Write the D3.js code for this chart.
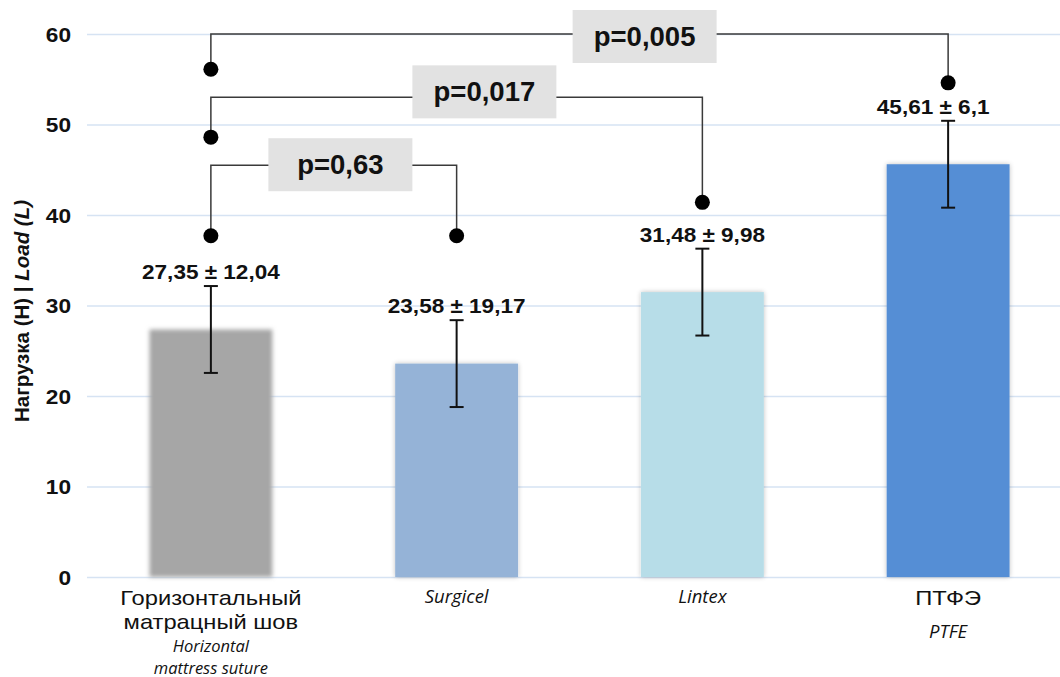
<!DOCTYPE html>
<html><head><meta charset="utf-8">
<script src="https://cdn.jsdelivr.net/npm/d3@7"></script>
<style>body{margin:0;background:#fff;}svg{display:block;}</style>
</head><body>
<svg id="c" width="1060" height="677"></svg>
<script>
const categoriesRu = [["Горизонтальный","матрацный шов"], [], [], ["ПТФЭ"]];
const categoriesEn = [["Horizontal","mattress suture"], ["Surgicel"], ["Lintex"], ["PTFE"]];
const means = [27.35, 23.58, 31.48, 45.61];
const errors = [4.8, 4.8, 4.8, 4.8];
const valueLabels = ["27,35 ± 12,04", "23,58 ± 19,17", "31,48 ± 9,98", "45,61 ± 6,1"];
const barColors = ["#a6a6a6", "#95b3d7", "#b7dde8", "#558ed5"];
const yTicks = [0, 10, 20, 30, 40, 50, 60];
// comparisons: pair of bar indexes, p label, bracket level, dot levels (data units), box position (category index units)
const compFrom = [0, 0, 0];
const compTo = [1, 2, 3];
const compP = ["p=0,63", "p=0,017", "p=0,005"];
const compLevel = [45.5, 53.0, 60.0];
const compDotFrom = [37.7, 48.6, 56.1];
const compDotTo = [37.7, 41.4, 54.6];
const compBoxAt = [0.527, 1.113, 1.765];

const FONT = "Liberation Sans, Arial, sans-serif";
const svg = d3.select("#c");
const y = d3.scaleLinear().domain([0, 60]).range([577, 34]);
const x = d3.scaleBand().domain(d3.range(4)).range([88, 1071]).paddingInner(0.5).paddingOuter(0.25);
const cx = i => x(i) + x.bandwidth() / 2;
const xi = d3.scaleLinear().domain([0, 3]).range([cx(0), cx(3)]);

function stext(g, tx, ty, sx, txt) {
  return g.append("text").attr("transform", `translate(${tx},${ty}) scale(${sx},1)`).text(txt);
}

const defs = svg.append("defs");
const f = defs.append("filter").attr("id", "sh").attr("x", "-10%").attr("y", "-10%").attr("width", "120%").attr("height", "120%");
f.append("feGaussianBlur").attr("in", "SourceAlpha").attr("stdDeviation", 2.5).attr("result", "b");
f.append("feComponentTransfer").attr("in", "b").attr("result", "o2").append("feFuncA").attr("type", "linear").attr("slope", 0.25);
const m = f.append("feMerge"); m.append("feMergeNode").attr("in", "o2"); m.append("feMergeNode").attr("in", "SourceGraphic");
const fb = defs.append("filter").attr("id", "blur").attr("x", "-10%").attr("y", "-10%").attr("width", "120%").attr("height", "120%");
fb.append("feGaussianBlur").attr("stdDeviation", 2);

// gridlines + tick labels
const yAxis = d3.axisLeft(y).tickValues(yTicks).tickSize(-(1060 - 87)).tickFormat("");
const ga = svg.append("g").attr("transform", "translate(87,0)").call(yAxis);
ga.select(".domain").remove();
ga.selectAll(".tick line").attr("stroke", "#d6e3f3").attr("stroke-width", 1.6);
const tl = svg.append("g").attr("font-family", FONT).attr("font-weight", "bold").attr("font-size", 21)
  .attr("fill", "#111").attr("text-anchor", "end");
yTicks.forEach(t => stext(tl, 71, y(t) + 7.5, 1.08, String(t)));

// y title
const yt = svg.append("text").attr("transform", "translate(29,311) rotate(-90)").attr("text-anchor", "middle")
  .attr("font-family", FONT).attr("font-weight", "bold").attr("font-size", 20.5).attr("fill", "#111");
yt.append("tspan").text("Нагрузка (Н) | ");
yt.append("tspan").attr("font-style", "italic").text("Load (L)");

// bars
svg.append("g").selectAll("rect").data(means).join("rect")
  .attr("x", (d, i) => x(i)).attr("width", x.bandwidth())
  .attr("y", d => y(d)).attr("height", d => y(0) - y(d))
  .attr("fill", (d, i) => barColors[i])
  .attr("filter", (d, i) => i === 0 ? "url(#blur)" : "url(#sh)");

// error bars
const eb = svg.append("g").attr("stroke", "#111").attr("stroke-width", 2);
means.forEach((d, i) => {
  const c = cx(i);
  eb.append("line").attr("x1", c).attr("x2", c).attr("y1", y(d + errors[i])).attr("y2", y(d - errors[i]));
  eb.append("line").attr("x1", c - 7).attr("x2", c + 7).attr("y1", y(d + errors[i])).attr("y2", y(d + errors[i]));
  eb.append("line").attr("x1", c - 7).attr("x2", c + 7).attr("y1", y(d - errors[i])).attr("y2", y(d - errors[i]));
});

// value labels
const vl = svg.append("g").attr("text-anchor", "middle").attr("font-family", FONT).attr("font-weight", "bold")
  .attr("font-size", 20.5).attr("fill", "#111");
valueLabels.forEach((t, i) => {
  stext(vl, cx(i) - (i === 3 ? 15 : 0), y(means[i] + errors[i]) - 7, 1.1, t);
});

// comparison brackets
const cg = svg.append("g");
compP.forEach((p, k) => {
  const x1 = cx(compFrom[k]), x2 = cx(compTo[k]), ly = y(compLevel[k]);
  cg.append("path").attr("fill", "none").attr("stroke", "#3a3a3a").attr("stroke-width", 1.5)
    .attr("d", `M${x1},${y(compDotFrom[k])}V${ly}H${x2}V${y(compDotTo[k])}`);
  cg.append("circle").attr("cx", x1).attr("cy", y(compDotFrom[k])).attr("r", 7.5).attr("fill", "#000");
  cg.append("circle").attr("cx", x2).attr("cy", y(compDotTo[k])).attr("r", 7.5).attr("fill", "#000");
  const bx = xi(compBoxAt[k]);
  const by = ly + (k === 1 ? -5 : (k === 2 ? 3 : 0));
  cg.append("rect").attr("x", bx - 72).attr("y", by - 27).attr("width", 144).attr("height", 53).attr("fill", "#e2e2e2");
  cg.append("text").attr("x", bx).attr("y", by + 9).attr("text-anchor", "middle")
    .attr("font-family", FONT).attr("font-weight", "bold").attr("font-size", 27.5)
    .attr("fill", "#111").text(p);
});

// x labels
const xl = svg.append("g").attr("text-anchor", "middle").attr("fill", "#111");
for (let i = 0; i < 4; i++) {
  const c = cx(i);
  const ru = categoriesRu[i], en = categoriesEn[i];
  ru.forEach((t, j) => {
    stext(xl, c, 605 + j * 23.5, 1.13, t).attr("font-family", FONT).attr("font-size", 21);
  });
  const baseEn = ru.length === 0 ? 603 : (ru.length === 1 ? 638 : 652);
  const fsEn = en.length > 1 ? 16.5 : 18.5;
  en.forEach((t, j) => {
    xl.append("text").attr("x", c).attr("y", baseEn + j * 21.5)
      .attr("font-family", "Open Sans, sans-serif").attr("font-style", "italic").attr("font-size", fsEn).text(t);
  });
}
</script>
</body></html>
